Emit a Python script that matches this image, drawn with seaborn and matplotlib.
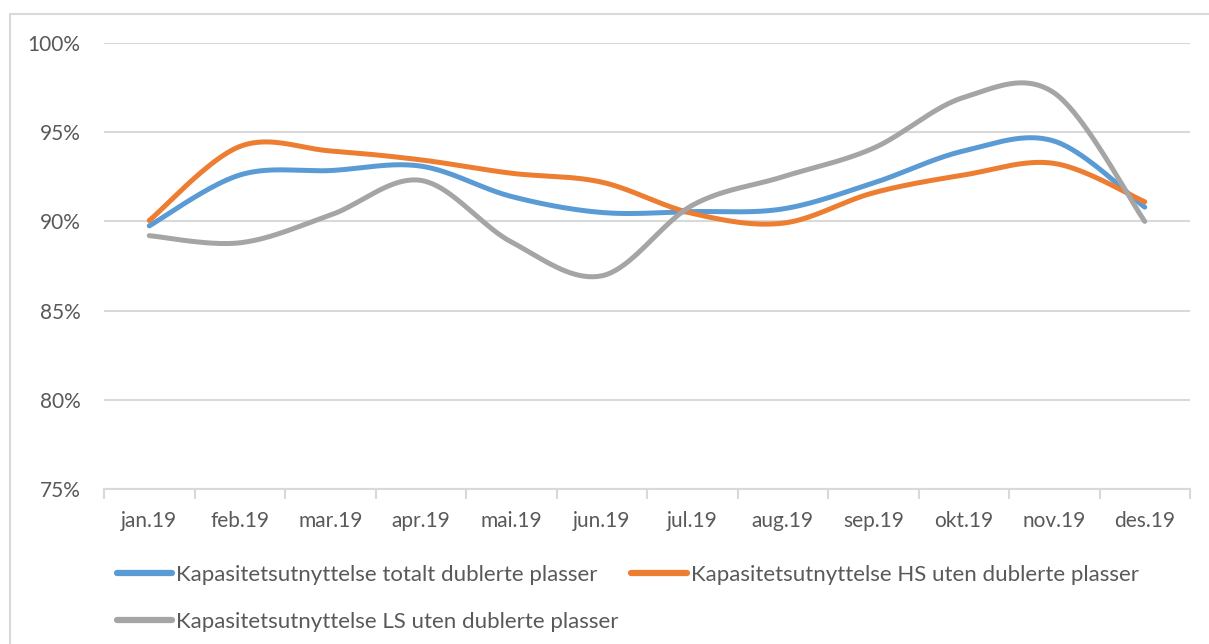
import numpy as np
import pandas as pd
import matplotlib
matplotlib.use("Agg")
import matplotlib.pyplot as plt
from matplotlib.lines import Line2D
from matplotlib.ticker import PercentFormatter, FixedLocator, NullFormatter
import seaborn as sns

months = ["jan.19", "feb.19", "mar.19", "apr.19", "mai.19", "jun.19",
          "jul.19", "aug.19", "sep.19", "okt.19", "nov.19", "des.19"]
series_names = ["Kapasitetsutnyttelse totalt dublerte plasser",
                "Kapasitetsutnyttelse HS uten dublerte plasser",
                "Kapasitetsutnyttelse LS uten dublerte plasser"]
totalt = [89.75, 92.6, 92.85, 93.1, 91.4, 90.5, 90.55, 90.7, 92.15, 93.95, 94.5, 90.8]
hs = [90.05, 94.2, 93.95, 93.45, 92.7, 92.2, 90.45, 89.9, 91.6, 92.6, 93.25, 91.1]
ls = [89.2, 88.8, 90.35, 92.3, 88.85, 86.95, 90.9, 92.5, 94.1, 96.95, 97.2, 90.0]
colors = ["#5B9BD5", "#ED7D31", "#A5A5A5"]


def smooth(xs, ys, n=40):
    """Excel-style smoothed line (Bezier, 1/6 neighbour tangents)."""
    P = np.column_stack([xs, ys]).astype(float)
    m = len(P)
    out = []
    for i in range(m - 1):
        p0 = P[i - 1] if i > 0 else P[i]
        p1, p2 = P[i], P[i + 1]
        p3 = P[i + 2] if i + 2 < m else P[i + 1]
        b1 = p1 + (p2 - p0) / 6.0
        b2 = p2 - (p3 - p1) / 6.0
        t = np.linspace(0, 1, n, endpoint=(i == m - 2))[:, None]
        seg = ((1 - t) ** 3) * p1 + 3 * ((1 - t) ** 2) * t * b1 + 3 * (1 - t) * t ** 2 * b2 + t ** 3 * p2
        out.append(seg)
    return np.vstack(out)


frames = []
for name, vals in zip(series_names, [totalt, hs, ls]):
    pts = smooth(np.arange(len(months)), vals)
    frames.append(pd.DataFrame({"x": pts[:, 0], "y": pts[:, 1], "serie": name,
                                "order": np.arange(len(pts))}))
df = pd.concat(frames, ignore_index=True)

sns.set_theme(style="white")
plt.rcParams["font.family"] = ["Lato", "DejaVu Sans"]
text_color = "#595959"
grid_color = "#D9D9D9"

fig = plt.figure(figsize=(12.09, 6.44), dpi=100)
ax = fig.add_axes([104 / 1209, 1 - 489 / 644, (1190 - 104) / 1209, (489 - 43) / 644])

sns.lineplot(data=df, x="x", y="y", hue="serie", palette=dict(zip(series_names, colors)),
             sort=False, estimator=None, units="serie", linewidth=3.6, ax=ax,
             legend=False, solid_capstyle="round")

ax.set_xlim(-0.5, len(months) - 0.5)
ax.set_ylim(75, 100)
ax.set_yticks([75, 80, 85, 90, 95, 100])
ax.yaxis.set_major_formatter(PercentFormatter(xmax=100, decimals=0))
ax.set_xticks(np.arange(len(months)))
ax.set_xticklabels(months)
ax.xaxis.set_minor_locator(FixedLocator(np.arange(-0.5, len(months), 1.0)))
ax.xaxis.set_minor_formatter(NullFormatter())
ax.tick_params(axis="x", which="major", length=0, pad=16, labelsize=15, labelcolor=text_color)
ax.tick_params(axis="x", which="minor", length=7, width=1.5, color=grid_color, direction="out", bottom=True)
ax.tick_params(axis="y", length=0, pad=17, labelsize=15, labelcolor=text_color)
ax.grid(axis="y", color=grid_color, linewidth=1.5)
ax.set_axisbelow(True)
for s in ["top", "right", "left"]:
    ax.spines[s].set_visible(False)
ax.spines["bottom"].set_color(grid_color)
ax.spines["bottom"].set_linewidth(1.5)
ax.set_xlabel("")
ax.set_ylabel("")

handles = [Line2D([0], [0], color=colors[0], lw=4.5, solid_capstyle="round"),
           Line2D([0], [0], color=colors[2], lw=4.5, solid_capstyle="round"),
           Line2D([0], [0], color=colors[1], lw=4.5, solid_capstyle="round")]
labels = [series_names[0], series_names[2], series_names[1]]
fig.legend(handles, labels, loc="upper left", bbox_to_anchor=(108 / 1209, 1 - 556 / 644),
           ncol=2, frameon=False, fontsize=16, labelcolor=text_color, handlelength=2.5,
           handletextpad=0.18, columnspacing=0.55, labelspacing=1.2, borderaxespad=0)

# outer chart-area border (left and top)
fig.add_artist(Line2D([10 / 1209, 10 / 1209], [0, 1 - 14 / 644], transform=fig.transFigure,
                      color=grid_color, lw=1.5))
fig.add_artist(Line2D([10 / 1209, 1], [1 - 14 / 644, 1 - 14 / 644], transform=fig.transFigure,
                      color=grid_color, lw=1.5))

fig.savefig("out.png", dpi=100, facecolor="white")
